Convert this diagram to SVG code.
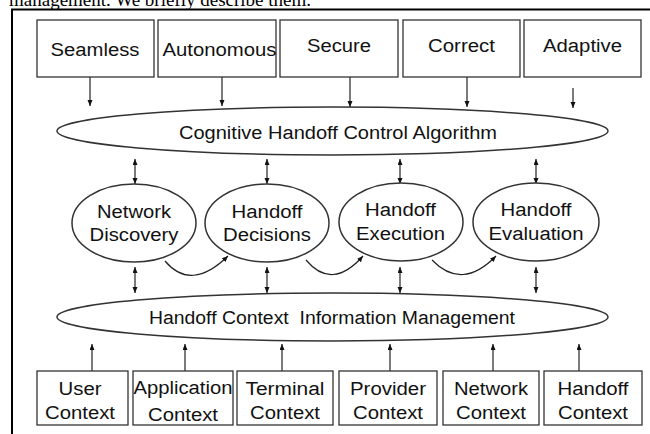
<svg xmlns="http://www.w3.org/2000/svg" width="650" height="434" viewBox="0 0 650 434">
<defs>
<marker id="ah" markerUnits="userSpaceOnUse" markerWidth="7" markerHeight="6" refX="6" refY="2.5" orient="auto-start-reverse">
<path d="M0,0 L6,2.5 L0,5 z" fill="#111"/>
</marker>
</defs>
<style>
.t{font-family:"Liberation Sans",Arial,sans-serif;font-size:18px;fill:#111;text-anchor:middle}
.box{fill:#fff;stroke:#333;stroke-width:1.3}
.ell{fill:#fff;stroke:#333;stroke-width:1.5}
.c{fill:none;stroke:#222;stroke-width:1.2}
.a{marker-end:url(#ah)}
.b{marker-start:url(#ah);marker-end:url(#ah)}
</style>
<rect width="650" height="434" fill="#fff"/>
<text x="9" y="5.5" style="font-family:'Liberation Serif','Times New Roman',serif;font-size:19px;fill:#000">management. We briefly describe them.</text>
<path d="M11,9.5 H650 M12,9 V434" stroke="#000" stroke-width="2" fill="none"/>

<g id="connectors">
<line class="c a" x1="90" y1="77" x2="90" y2="106"/>
<line class="c a" x1="222" y1="77" x2="222" y2="106"/>
<line class="c a" x1="350" y1="77" x2="350" y2="107"/>
<line class="c a" x1="467" y1="77" x2="467" y2="107"/>
<line class="c a" x1="573" y1="88" x2="573" y2="108"/>
<line class="c b" x1="135" y1="159" x2="135" y2="184"/>
<line class="c b" x1="267" y1="159" x2="267" y2="184"/>
<line class="c b" x1="400" y1="159" x2="400" y2="184"/>
<line class="c b" x1="536" y1="159" x2="536" y2="184"/>
<path class="c a" d="M165,261 Q191,292 228,256"/>
<path class="c a" d="M306,260 Q332,291 363,256"/>
<path class="c a" d="M432,260 Q462,291 496,256"/>
<line class="c b" x1="135" y1="267" x2="135" y2="293"/>
<line class="c b" x1="267" y1="267" x2="267" y2="293"/>
<line class="c b" x1="400" y1="267" x2="400" y2="293"/>
<line class="c b" x1="536" y1="267" x2="536" y2="293"/>
<line class="c a" x1="92" y1="371" x2="92" y2="344"/>
<line class="c a" x1="185" y1="371" x2="185" y2="344"/>
<line class="c a" x1="282" y1="371" x2="282" y2="344"/>
<line class="c a" x1="390" y1="371" x2="390" y2="344"/>
<line class="c a" x1="493" y1="371" x2="493" y2="344"/>
<line class="c a" x1="579" y1="371" x2="579" y2="344"/>
</g>

<g id="seamless"><rect class="box" x="37" y="20" width="117" height="57"/><text class="t" x="95" y="56" textLength="89" lengthAdjust="spacingAndGlyphs">Seamless</text></g>
<g id="autonomous"><rect class="box" x="158" y="20" width="118" height="57"/><text class="t" x="219.5" y="56" textLength="114" lengthAdjust="spacingAndGlyphs">Autonomous</text></g>
<g id="secure"><rect class="box" x="280" y="20" width="118" height="57"/><text class="t" x="339" y="52" textLength="64" lengthAdjust="spacingAndGlyphs">Secure</text></g>
<g id="correct"><rect class="box" x="403" y="20" width="117" height="57"/><text class="t" x="461.5" y="52" textLength="67" lengthAdjust="spacingAndGlyphs">Correct</text></g>
<g id="adaptive"><rect class="box" x="524" y="20" width="117" height="57"/><text class="t" x="582.5" y="52" textLength="79" lengthAdjust="spacingAndGlyphs">Adaptive</text></g>

<g id="control"><ellipse class="ell" cx="332.5" cy="131" rx="275.5" ry="24"/><text class="t" x="338" y="139" textLength="318" lengthAdjust="spacingAndGlyphs">Cognitive Handoff Control Algorithm</text></g>

<g id="discovery"><ellipse class="ell" cx="134" cy="223" rx="62" ry="39"/><text class="t" x="134" y="218" textLength="74" lengthAdjust="spacingAndGlyphs">Network</text><text class="t" x="134" y="241" textLength="89" lengthAdjust="spacingAndGlyphs">Discovery</text></g>
<g id="decisions"><ellipse class="ell" cx="267" cy="223" rx="62" ry="39"/><text class="t" x="267" y="218" textLength="71" lengthAdjust="spacingAndGlyphs">Handoff</text><text class="t" x="267" y="241" textLength="88" lengthAdjust="spacingAndGlyphs">Decisions</text></g>
<g id="execution"><ellipse class="ell" cx="401" cy="222" rx="62" ry="39"/><text class="t" x="400.5" y="216" textLength="71" lengthAdjust="spacingAndGlyphs">Handoff</text><text class="t" x="400.5" y="240" textLength="89" lengthAdjust="spacingAndGlyphs">Execution</text></g>
<g id="evaluation"><ellipse class="ell" cx="536" cy="222" rx="63" ry="39"/><text class="t" x="536" y="216" textLength="71" lengthAdjust="spacingAndGlyphs">Handoff</text><text class="t" x="536" y="240" textLength="95" lengthAdjust="spacingAndGlyphs">Evaluation</text></g>

<g id="context-mgmt"><ellipse class="ell" cx="332.5" cy="317" rx="275.5" ry="24"/><text class="t" x="332" y="324" textLength="366" lengthAdjust="spacingAndGlyphs" xml:space="preserve">Handoff Context  Information Management</text></g>

<g id="user"><rect class="box" x="37" y="371" width="91" height="54"/><text class="t" x="80" y="395" textLength="43" lengthAdjust="spacingAndGlyphs">User</text><text class="t" x="80" y="419" textLength="70" lengthAdjust="spacingAndGlyphs">Context</text></g>
<g id="application"><rect class="box" x="133" y="371" width="100" height="54"/><text class="t" x="183" y="394" textLength="99" lengthAdjust="spacingAndGlyphs">Application</text><text class="t" x="183" y="421" textLength="70" lengthAdjust="spacingAndGlyphs">Context</text></g>
<g id="terminal"><rect class="box" x="237" y="371" width="96" height="54"/><text class="t" x="285" y="395" textLength="79" lengthAdjust="spacingAndGlyphs">Terminal</text><text class="t" x="285" y="419" textLength="70" lengthAdjust="spacingAndGlyphs">Context</text></g>
<g id="provider"><rect class="box" x="339" y="371" width="98" height="54"/><text class="t" x="388" y="395" textLength="76" lengthAdjust="spacingAndGlyphs">Provider</text><text class="t" x="388" y="419" textLength="70" lengthAdjust="spacingAndGlyphs">Context</text></g>
<g id="network"><rect class="box" x="443" y="371" width="96" height="54"/><text class="t" x="491" y="395" textLength="74" lengthAdjust="spacingAndGlyphs">Network</text><text class="t" x="491" y="419" textLength="70" lengthAdjust="spacingAndGlyphs">Context</text></g>
<g id="handoff"><rect class="box" x="544" y="371" width="98" height="54"/><text class="t" x="593" y="395" textLength="71" lengthAdjust="spacingAndGlyphs">Handoff</text><text class="t" x="593" y="419" textLength="70" lengthAdjust="spacingAndGlyphs">Context</text></g>
</svg>
